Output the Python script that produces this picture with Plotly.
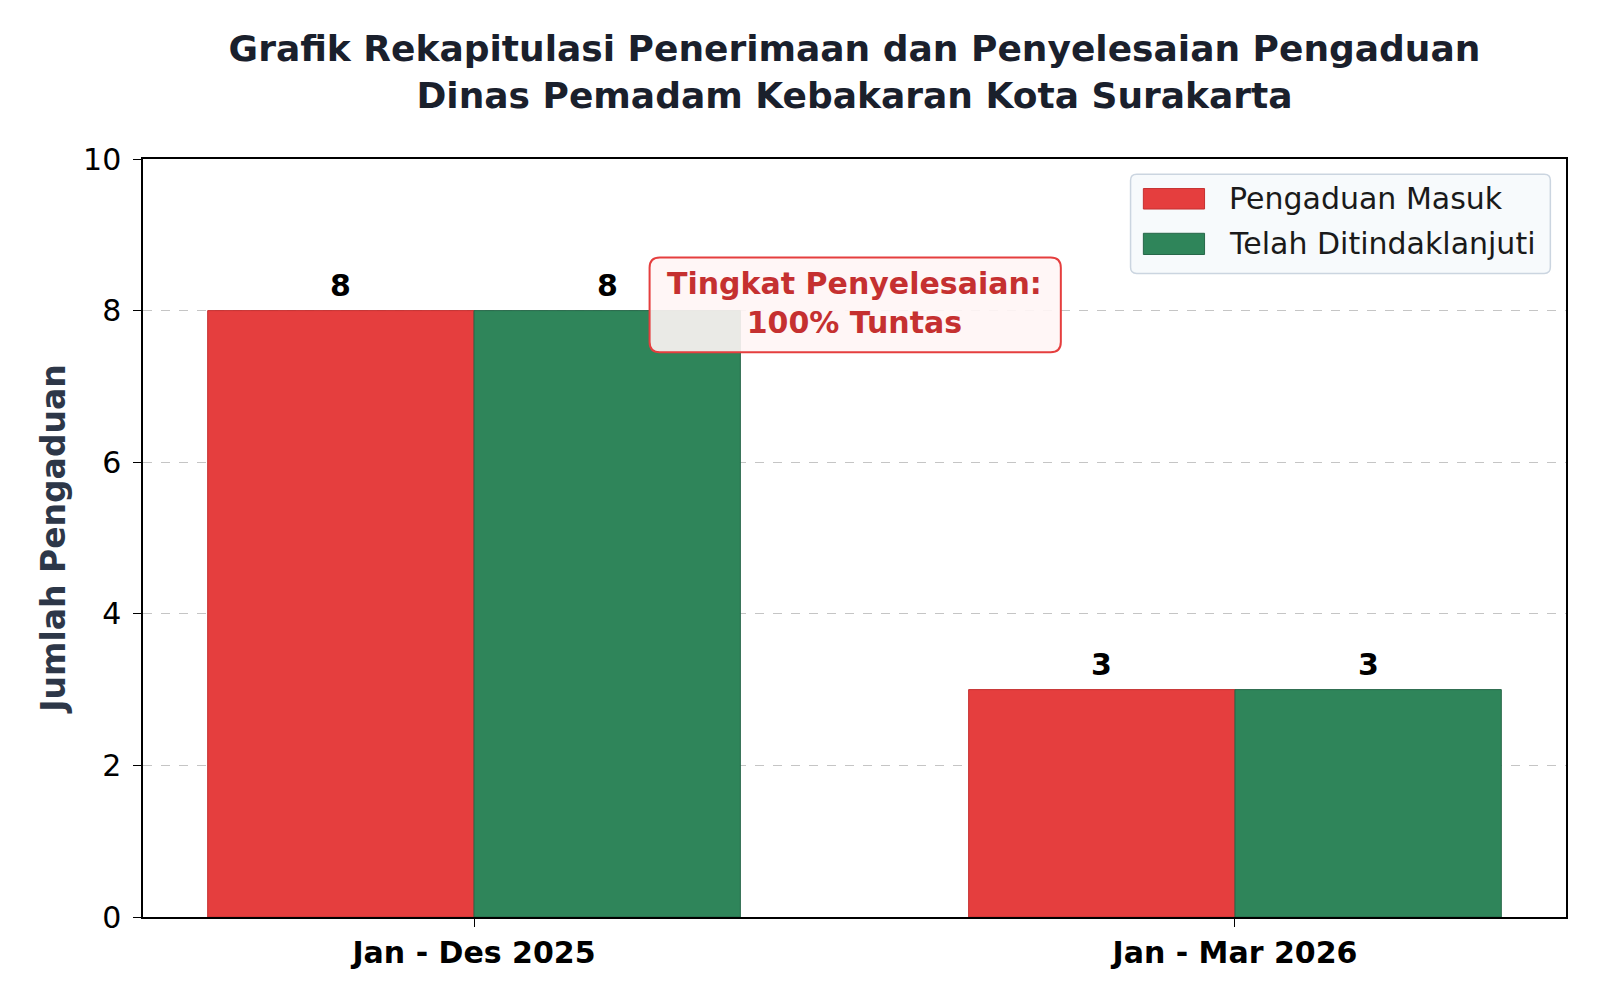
import plotly.graph_objects as go

# data
periode = ["Jan - Des 2025", "Jan - Mar 2026"]
pengaduan_masuk = [8, 3]
telah_ditindaklanjuti = [8, 3]
nama_seri = ["Pengaduan Masuk", "Telah Ditindaklanjuti"]
warna = ["#e53e3e", "#2f855a"]
warna_tepi = ["#c53030", "#276749"]
y_ticks = [0, 2, 4, 6, 8, 10]

FONT = "DejaVu Sans"
lebar = 0.35
posisi = list(range(len(periode)))

fig = go.Figure()
for i, nilai in enumerate([pengaduan_masuk, telah_ditindaklanjuti]):
    off = -lebar if i == 0 else 0
    fig.add_trace(go.Bar(
        x=posisi, y=nilai, name=nama_seri[i],
        width=lebar, offset=off,
        marker=dict(color=warna[i], line=dict(color=warna_tepi[i], width=1)),
    ))
    # value labels above the bars
    for p, v in zip(posisi, nilai):
        fig.add_annotation(x=p + off + lebar / 2, y=v, text=str(v), showarrow=False,
                           yanchor="bottom", yshift=6,
                           font=dict(family=FONT, size=30, color="black", weight="bold"))


def kotak_bulat(x0, y0, x1, y1, rx, ry):
    # rounded rectangle path in axis-domain units
    return (f"M {x0+rx},{y0} L {x1-rx},{y0} Q {x1},{y0} {x1},{y0+ry} "
            f"L {x1},{y1-ry} Q {x1},{y1} {x1-rx},{y1} L {x0+rx},{y1} "
            f"Q {x0},{y1} {x0},{y1-ry} L {x0},{y0+ry} Q {x0},{y0} {x0+rx},{y0} Z")


# annotation box "Tingkat Penyelesaian"
fig.add_shape(type="path", xref="x domain", yref="y domain",
              path=kotak_bulat(0.356, 0.745, 0.645, 0.870, 0.0072, 0.0135),
              fillcolor="rgba(255,245,245,0.9)", line=dict(color="#e53e3e", width=2),
              layer="above")
fig.add_annotation(xref="x domain", yref="y domain", x=0.5, y=0.81,
                   xanchor="center", yanchor="middle",
                   text="Tingkat Penyelesaian:<br>100% Tuntas", showarrow=False,
                   font=dict(family=FONT, size=30, color="#c53030", weight="bold"),
                   align="center")

# legend drawn by hand so the patches look like the reference
fig.add_shape(type="path", xref="x domain", yref="y domain",
              path=kotak_bulat(0.694, 0.849, 0.989, 0.980, 0.0043, 0.0081),
              fillcolor="rgba(247,250,252,0.95)", line=dict(color="#cbd5e0", width=1.5),
              layer="above")
leg_y = [(0.934, 0.961), (0.874, 0.902)]
for i in range(len(nama_seri)):
    fig.add_shape(type="rect", xref="x domain", yref="y domain",
                  x0=0.703, x1=0.746, y0=leg_y[i][0], y1=leg_y[i][1],
                  fillcolor=warna[i], line=dict(color=warna_tepi[i], width=1), layer="above")
    fig.add_annotation(xref="x domain", yref="y domain", x=0.762,
                       y=(leg_y[i][0] + leg_y[i][1]) / 2, xanchor="left", yanchor="middle",
                       text=nama_seri[i], showarrow=False,
                       font=dict(family=FONT, size=30, color="#1a1a1a"))

fig.update_layout(
    width=1600, height=1000,
    barmode="overlay",
    showlegend=False,
    plot_bgcolor="white", paper_bgcolor="white",
    margin=dict(l=135, r=42, t=151, b=91),
    font=dict(family=FONT, size=30, color="black"),
    title=dict(
        text="Grafik Rekapitulasi Penerimaan dan Penyelesaian Pengaduan<br>Dinas Pemadam Kebakaran Kota Surakarta",
        x=0.5, xref="paper", xanchor="center", y=0.947, yref="container", yanchor="middle",
        font=dict(family=FONT, size=36, color="#1a202c", weight="bold"),
    ),
)
fig.update_xaxes(
    range=[-0.435, 1.435], tickvals=posisi, ticktext=periode,
    tickfont=dict(family=FONT, size=30, color="black", weight="bold"),
    showline=True, linecolor="black", linewidth=1.5, mirror=True,
    ticks="outside", ticklen=8, tickcolor="black", showgrid=False, zeroline=False,
)
fig.update_yaxes(
    range=[0, 10], tickvals=y_ticks,
    tickfont=dict(family=FONT, size=30, color="black"),
    ticklabelstandoff=6,
    title=dict(text="Jumlah Pengaduan", standoff=8,
               font=dict(family=FONT, size=33, color="#2d3748", weight="bold")),
    showline=True, linecolor="black", linewidth=1.5, mirror=True,
    ticks="outside", ticklen=8, tickcolor="black",
    showgrid=True, gridcolor="rgba(140,140,140,0.5)", griddash="dash", gridwidth=1.3,
    zeroline=False,
)

fig.write_html("out.html")
